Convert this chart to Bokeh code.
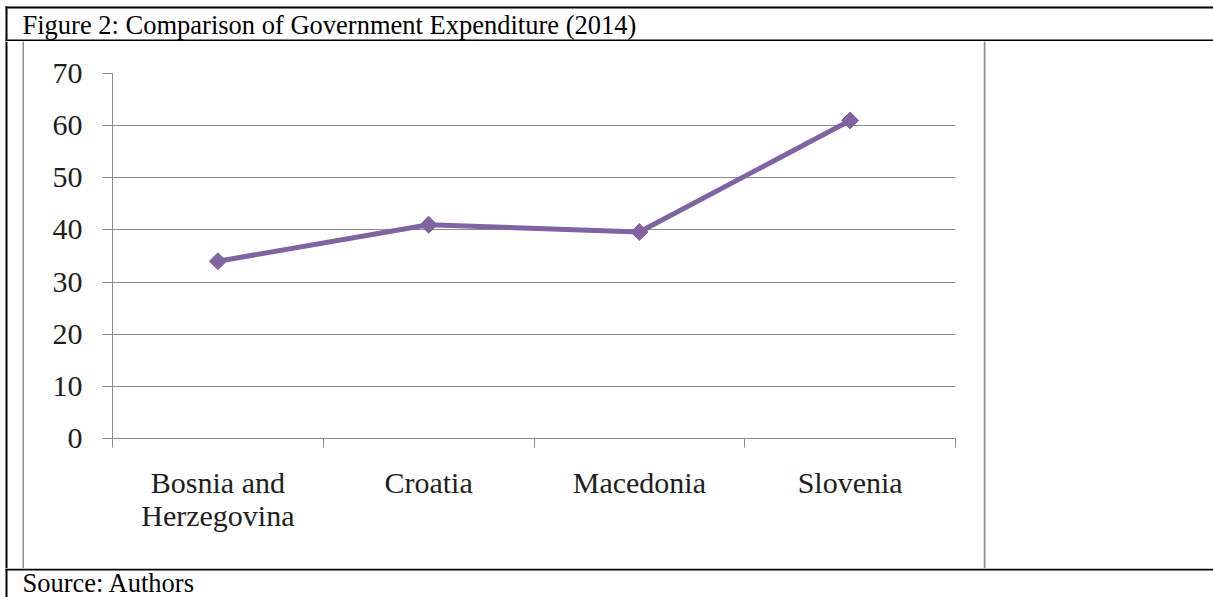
import numpy as np
from bokeh.plotting import figure
from bokeh.layouts import column, row
from bokeh.models import Range1d, FixedTicker, LinearAxis
from bokeh.core.properties import value
from bokeh.embed import file_html
from bokeh.resources import INLINE

# ---- data ----
caption = "Figure 2: Comparison of Government Expenditure (2014)"
source_note = "Source: Authors"
categories = ["Bosnia and\nHerzegovina", "Croatia", "Macedonia", "Slovenia"]
expenditure = [34.0, 41.0, 39.6, 61.0]
y_ticks = [0, 10, 20, 30, 40, 50, 60, 70]
y_min, y_max = 0, 70

# category slots: category i occupies [i, i+1], drawn at its centre
n = len(categories)
x_pos = [i + 0.5 for i in range(n)]
edges = list(range(n + 1))

# ---- style ----
FONT = "Liberation Serif"
GRID = "#8c8c8c"
BOXC = "#8c8c8c"
PURPLE = "#8064A2"
TXT = "#1e1e1e"
W = 1213


def blank(w, h, bg="white"):
    """A plain drawing surface in pixel units (y grows downward)."""
    f = figure(width=w, height=h, x_range=Range1d(0, w), y_range=Range1d(h, 0),
               output_backend="svg", toolbar_location=None,
               x_axis_location=None, y_axis_location=None, min_border=0)
    f.grid.visible = False
    f.outline_line_color = None
    f.background_fill_color = bg
    f.border_fill_color = bg
    return f


# ---- top row: caption cell ----
top = blank(W, 41)
top.quad(left=[5, 5, 5], right=[W, 7, W], top=[6, 6, 39], bottom=[8, 41, 41],
         fill_color="black", line_color=None)
top.text(x=[22], y=[24], text=[caption], text_font=value(FONT), text_font_size=value("26.5px"),
         text_color="black", text_baseline="alphabetic", text_align="left")

# ---- middle row: chart cell ----
MH = 527
left_cell = blank(24, MH)
left_cell.quad(left=[5, 22], right=[7, 24], top=[0, 0], bottom=[MH, MH],
               fill_color=["black", BOXC], line_color=None)
right_cell = blank(W - 983, MH)
right_cell.quad(left=[0], right=[2], top=[0], bottom=[MH], fill_color=BOXC, line_color=None)
edge_top = blank(959, 2, BOXC)
edge_bot = blank(959, 2, BOXC)

CW, CH = 959, 523
p = figure(width=CW, height=CH, x_range=Range1d(0, n), y_range=Range1d(y_min, y_max),
           output_backend="svg", toolbar_location=None, x_axis_location=None)
p.min_border_left = 88
p.min_border_right = CW - 931
p.min_border_top = 30
p.min_border_bottom = CH - 395
p.outline_line_color = None
p.background_fill_color = "white"
p.border_fill_color = "white"

ya = p.yaxis[0]
ya.ticker = FixedTicker(ticks=y_ticks)
ya.axis_line_color = GRID
ya.major_tick_line_color = GRID
ya.major_tick_in = 0
ya.major_tick_out = 10
ya.minor_tick_line_color = None
ya.major_label_standoff = 20
ya.major_label_text_font = FONT
ya.major_label_text_font_size = "30px"
ya.major_label_text_color = TXT

p.ygrid.ticker = FixedTicker(ticks=y_ticks)
p.ygrid.grid_line_color = GRID
p.xgrid.visible = False

edge_axis = LinearAxis(ticker=FixedTicker(ticks=edges),
                       axis_line_color=GRID, major_tick_line_color=GRID,
                       major_tick_in=0, major_tick_out=9, minor_tick_line_color=None,
                       major_label_overrides={e: "" for e in edges},
                       major_label_standoff=0)
p.add_layout(edge_axis, "below")
cat_axis = LinearAxis(ticker=FixedTicker(ticks=x_pos),
                      major_label_overrides={x: c for x, c in zip(x_pos, categories)},
                      axis_line_color=None, major_tick_line_color=None, minor_tick_line_color=None,
                      major_tick_in=0, major_tick_out=0, major_label_standoff=18,
                      major_label_text_font=FONT, major_label_text_font_size="30px",
                      major_label_text_color=TXT, major_label_text_line_height=1.0)
p.add_layout(cat_axis, "below")

p.line(x=x_pos, y=expenditure, line_color=PURPLE, line_width=5)
p.scatter(x=x_pos, y=expenditure, marker="square", angle=np.pi / 4, size=12,
          fill_color=PURPLE, line_color=PURPLE)

middle = row(left_cell, column(edge_top, p, edge_bot), right_cell)

# ---- bottom row: source cell ----
bottom = blank(W, 29)
bottom.quad(left=[5, 5], right=[W, 7], top=[0, 0], bottom=[2, 29],
            fill_color="black", line_color=None)
bottom.text(x=[22], y=[14], text=[source_note], text_font=value(FONT),
            text_font_size=value("26.5px"), text_color="black",
            text_baseline="alphabetic", text_align="left")

layout = column(top, middle, bottom)
open("out.html", "w").write(file_html(layout, INLINE, title="Government Expenditure"))
